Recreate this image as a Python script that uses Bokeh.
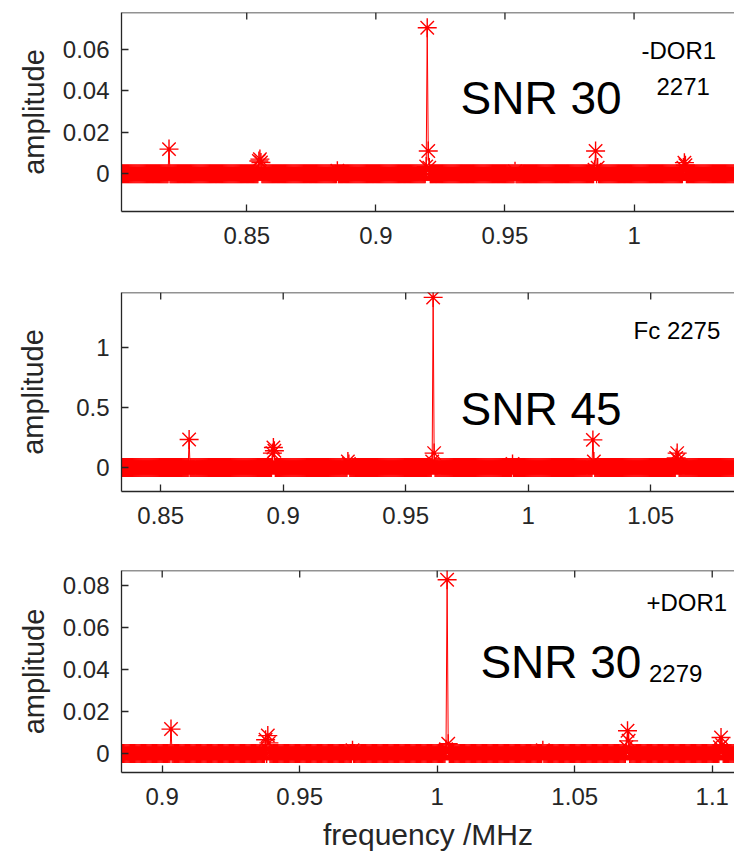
import numpy as np
from bokeh.plotting import figure
from bokeh.models import Label, FixedTicker, Range1d, Span
from bokeh.layouts import column
from bokeh.embed import file_html
from bokeh.resources import INLINE

# ---------------- data ----------------
BIN_STEP = 0.0004  # MHz, spectrum bin spacing

# top panel (-DOR1, 2271)
top_bins = (0.8015, 1.0450)
top_peak_freq = [0.8198, 0.8546, 0.8550, 0.8554, 0.8853, 0.9196, 0.9200, 0.9204, 0.9208,
                 0.9539, 0.9849, 0.9853, 0.9857, 1.0190, 1.0194, 1.0198]
top_peak_amp = [0.0119, 0.0062, 0.0071, 0.0055, 0.0015, 0.0035, 0.0703, 0.0110, 0.0030,
                0.0012, 0.0020, 0.0110, 0.0030, 0.0030, 0.0054, 0.0042]
top_xticks = [0.85, 0.9, 0.95, 1.0]
top_xlabels = ["0.85", "0.9", "0.95", "1"]
top_yticks = [0.0, 0.02, 0.04, 0.06]
top_ylabels = ["0", "0.02", "0.04", "0.06"]

# middle panel (Fc 2275)
mid_bins = (0.8340, 1.0900)
mid_peak_freq = [0.8616, 0.8954, 0.8958, 0.8962, 0.9264, 0.9268, 0.9607, 0.9611, 0.9615,
                 0.9936, 1.0262, 1.0266, 1.0270, 1.0603, 1.0607, 1.0611]
mid_peak_amp = [0.233, 0.12, 0.167, 0.14, 0.05, 0.03, 0.05, 1.417, 0.12,
                0.03, 0.04, 0.23, 0.05, 0.08, 0.12, 0.06]
mid_xticks = [0.85, 0.9, 0.95, 1.0, 1.05]
mid_xlabels = ["0.85", "0.9", "0.95", "1", "1.05"]
mid_yticks = [0.0, 0.5, 1.0]
mid_ylabels = ["0", "0.5", "1"]

# bottom panel (+DOR1, 2279)
bot_bins = (0.8852, 1.1150)
bot_peak_freq = [0.9034, 0.9378, 0.9382, 0.9386, 0.9692, 1.0031, 1.0035, 1.0039, 1.0385,
                 1.0689, 1.0693, 1.0697, 1.1029, 1.1033, 1.1037]
bot_peak_amp = [0.0116, 0.0065, 0.0085, 0.0050, 0.0015, 0.0020, 0.0828, 0.0046, 0.0015,
                0.0030, 0.0108, 0.0060, 0.0030, 0.0076, 0.0040]
bot_xticks = [0.9, 0.95, 1.0, 1.05, 1.1]
bot_xlabels = ["0.9", "0.95", "1", "1.05", "1.1"]
bot_yticks = [0.0, 0.02, 0.04, 0.06, 0.08]
bot_ylabels = ["0", "0.02", "0.04", "0.06", "0.08"]

FONT = "Liberation Sans"
AX_COLOR = "#262626"
RED = "#ff0000"
TICK_LEN = 7


def spectrum(bins, pf, pa):
    n = int(round((bins[1] - bins[0]) / BIN_STEP)) + 1
    f = bins[0] + BIN_STEP * np.arange(n)
    a = np.zeros(n)
    for fr, am in zip(pf, pa):
        a[int(round((fr - bins[0]) / BIN_STEP))] = am
    return f, a


def style_axis(ax, ticks, labels):
    ax.ticker = FixedTicker(ticks=ticks)
    ax.major_label_overrides = {t: l for t, l in zip(ticks, labels)}
    ax.major_tick_in = TICK_LEN
    ax.major_tick_out = 0
    ax.minor_tick_line_color = None
    ax.axis_line_color = AX_COLOR
    ax.axis_line_width = 1.3
    ax.major_tick_line_color = AX_COLOR
    ax.major_tick_line_width = 1.3
    ax.major_label_text_font = FONT
    ax.major_label_text_color = AX_COLOR
    ax.major_label_text_font_size = "24px"
    ax.axis_label_text_font = FONT
    ax.axis_label_text_font_style = "normal"
    ax.axis_label_text_color = AX_COLOR
    ax.axis_label_text_font_size = "29px"


def make_panel(xr, yr, bins, pf, pa, xt, xtl, yt, ytl, height, top, bottom,
               ylab_standoff, xlabel=None):
    p = figure(width=734, height=height, x_range=Range1d(*xr), y_range=Range1d(*yr),
               output_backend="svg", toolbar_location=None,
               min_border_left=121, min_border_right=0,
               min_border_top=top, min_border_bottom=bottom)
    p.xgrid.visible = False
    p.ygrid.visible = False
    p.outline_line_color = None
    p.background_fill_color = "white"
    p.border_fill_color = "white"

    f, a = spectrum(bins, pf, pa)
    p.line(f, a, line_color=RED, line_width=1)
    p.scatter(f, a, marker="asterisk", size=19, line_color=RED, line_width=1.4)

    style_axis(p.xaxis[0], xt, xtl)
    p.xaxis[0].major_label_standoff = 15
    style_axis(p.yaxis[0], yt, ytl)
    p.yaxis[0].major_label_standoff = 12
    p.yaxis[0].axis_label = "amplitude"
    p.yaxis[0].axis_label_standoff = ylab_standoff
    if xlabel:
        p.xaxis[0].axis_label = xlabel
        p.xaxis[0].axis_label_text_font_size = "30px"
        p.xaxis[0].axis_label_standoff = 10

    # box top edge with inward ticks (MATLAB "box on")
    p.add_layout(Span(location=yr[1], dimension="width", line_color=AX_COLOR,
                      line_width=1.3))
    frame_h = height - top - bottom
    tick_d = (yr[1] - yr[0]) / frame_h * TICK_LEN
    p.segment(x0=xt, y0=[yr[1]] * len(xt), x1=xt, y1=[yr[1] - tick_d] * len(xt),
              line_color=AX_COLOR, line_width=1.3)
    return p


def add_text(p, x, y, text, size):
    p.add_layout(Label(x=x, y=y, text=text, text_font=FONT, text_font_size=size,
                       text_color="black", text_align="left",
                       text_baseline="alphabetic"))


p1 = make_panel((0.8015, 1.0389), (-0.0181, 0.0776), top_bins, top_peak_freq, top_peak_amp,
                top_xticks, top_xlabels, top_yticks, top_ylabels, 280, 12, 69, 10)
add_text(p1, 0.9328, 0.0365, "SNR 30", "46px")
add_text(p1, 1.0029, 0.0591, "-DOR1", "24px")
add_text(p1, 1.0087, 0.0418, "2271", "24px")

p2 = make_panel((0.834, 1.0842), (-0.2, 1.458), mid_bins, mid_peak_freq, mid_peak_amp,
                mid_xticks, mid_xlabels, mid_yticks, mid_ylabels, 280, 12, 69, 24)
add_text(p2, 1.043, 1.141, "Fc 2275", "24px")
add_text(p2, 0.9724, 0.491, "SNR 45", "46px")

p3 = make_panel((0.8852, 1.1081), (-0.0091, 0.0872), bot_bins, bot_peak_freq, bot_peak_amp,
                bot_xticks, bot_xlabels, bot_yticks, bot_ylabels, 297, 10, 85, 10,
                xlabel="frequency /MHz")
add_text(p3, 1.0761, 0.0720, "+DOR1", "24px")
add_text(p3, 1.0157, 0.0434, "SNR 30", "46px")
add_text(p3, 1.0770, 0.0381, "2279", "24px")

layout = column(p1, p2, p3, spacing=0)
open("out.html", "w").write(file_html(layout, INLINE))
